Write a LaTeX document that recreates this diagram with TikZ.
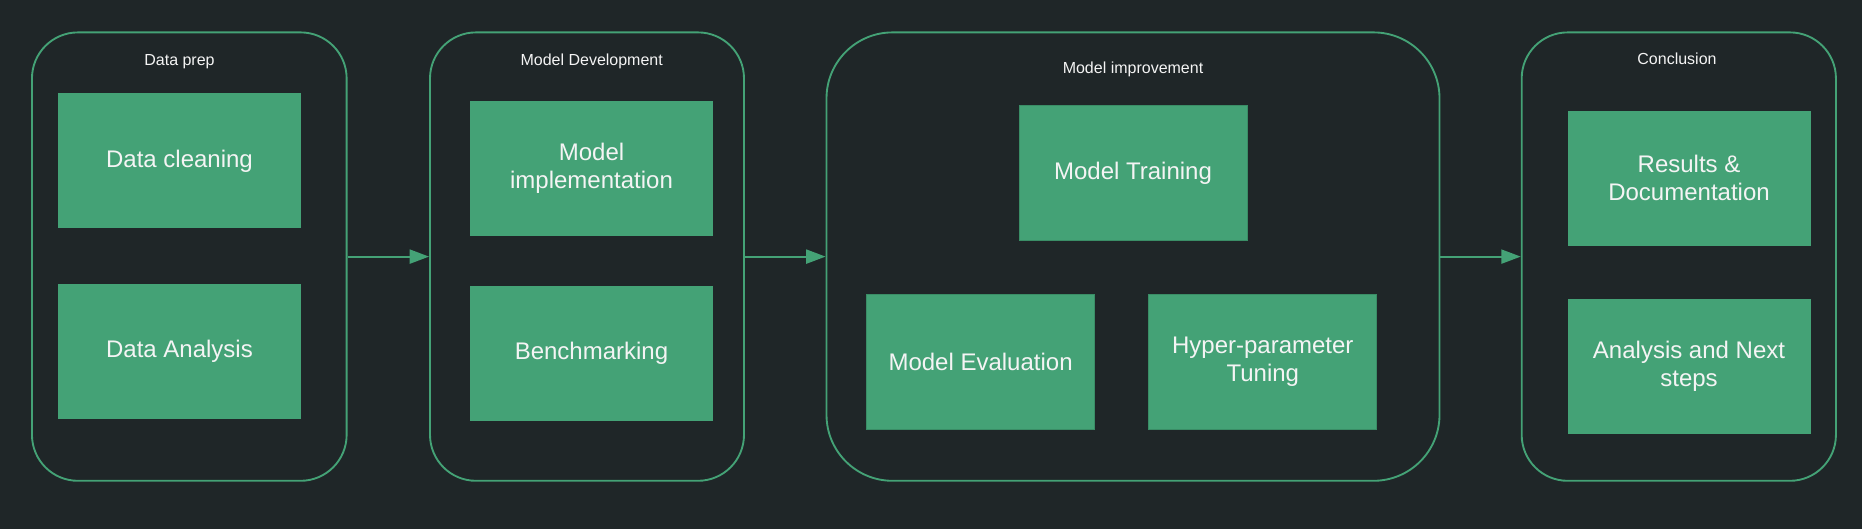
\documentclass[tikz,border=0pt]{standalone}
\usepackage{fontspec}
\setmainfont{Liberation Sans}
\usetikzlibrary{arrows.meta}
\definecolor{bgc}{HTML}{1F2628}
\definecolor{grn}{HTML}{44A276}
\definecolor{grndark}{HTML}{3A8D66}
\definecolor{txt}{HTML}{F4F4F4}
\tikzset{
  container/.style={draw=grn, line width=1.4pt, rounded corners=34.5pt, inner sep=0pt, minimum height=336.3pt},
  stepbox/.style={fill=grn, draw=none, text=txt, align=center, inner sep=0pt,
    font=\fontsize{18}{20.9}\selectfont, minimum width=182.25pt, minimum height=101.2pt},
  midbox/.style={stepbox, draw=grndark, line width=0.6pt, minimum width=171pt},
  title/.style={text=txt, font=\fontsize{12}{14}\selectfont, inner sep=0pt},
  flow/.style={draw=grn, line width=1.4pt, -{Triangle[length=14.5pt,width=10.5pt]}}
}
\begin{document}
\begin{tikzpicture}[x=0.75pt,y=-0.75pt]
\fill[bgc] (0,0) rectangle (1862,529);
\useasboundingbox (0,0) rectangle (1862,529);

% containers
\node[container, minimum width=236pt] (c1) at (189.3,256.6) {};
\node[container, minimum width=235.5pt] (c2) at (587,256.6) {};
\node[container, minimum width=459.75pt, rounded corners=49.5pt] (c3) at (1133,256.6) {};
\node[container, minimum width=235.7pt] (c4) at (1678.8,256.6) {};

% titles
\node[title] (t1) at (179.5,61.7) {Data prep};
\node[title] (t2) at (591.7,61.7) {Model Development};
\node[title] (t3) at (1133,69.1) {Model improvement};
\node[title] (t4) at (1677,58.7) {Conclusion};

% boxes
\node[stepbox] (dc) at (179.5,160.9) {Data cleaning};
\node[stepbox] (da) at (179.5,351.7) {Data Analysis};
\node[stepbox] (mi) at (591.5,168.4) {Model\\implementation};
\node[stepbox] (bm) at (591.5,353.6) {Benchmarking};
\node[midbox] (mt) at (1133,173.3) {Model Training};
\node[midbox] (me) at (980.6,362) {Model Evaluation};
\node[midbox] (hp) at (1262.8,362) {Hyper-parameter\\Tuning};
\node[stepbox] (rd) at (1689,178.1) {Results \&\\Documentation};
\node[stepbox] (an) at (1689,366.2) {Analysis and Next\\steps};

% connectors
\draw[flow] (c1.east) -- (c2.west);
\draw[flow] (c2.east) -- (c3.west);
\draw[flow] (c3.east) -- (c4.west);
\end{tikzpicture}
\end{document}
